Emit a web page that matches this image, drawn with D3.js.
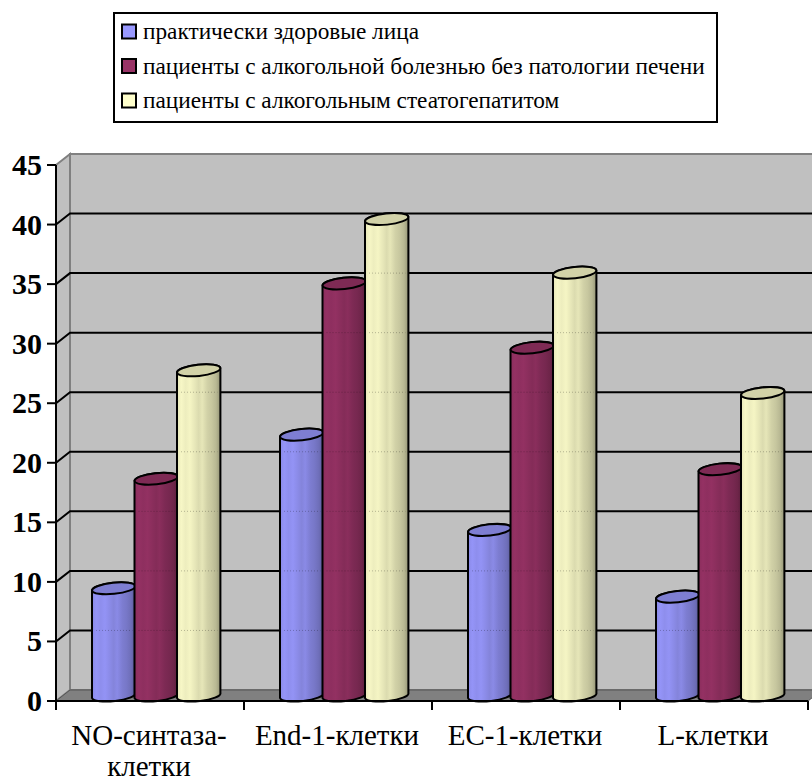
<!DOCTYPE html>
<html>
<head>
<meta charset="utf-8">
<script src="https://cdn.jsdelivr.net/npm/d3@7"></script>
<style>
  html, body { margin: 0; padding: 0; background: #fff; }
  svg { display: block; }
  text { font-family: "Liberation Serif", serif; fill: #000; }
  .tick-label { font-size: 30px; font-weight: bold; }
  .cat-label { font-size: 29px; }
  .legend-label { font-size: 23.3px; }
</style>
</head>
<body>
<div id="chart"></div>
<script>
var categories = [['NO-синтаза-', 'клетки'], ['End-1-клетки'], ['EC-1-клетки'], ['L-клетки']];
var seriesNames = [
  'практически здоровые лица',
  'пациенты с алкогольной болезнью без патологии печени',
  'пациенты с алкогольным стеатогепатитом'
];
var healthy = [9.0, 21.9, 13.9, 8.3];
var noLiver = [18.2, 34.6, 29.2, 19.0];
var steato = [27.3, 40.0, 35.5, 25.4];
var yTicks = [0, 5, 10, 15, 20, 25, 30, 35, 40, 45];
var seriesColors = ['#9999ff', '#993366', '#ffffcc'];

var width = 812, height = 783;
var depth = {x: 14, y: -11};

var svg = d3.select('#chart').append('svg')
    .attr('width', width)
    .attr('height', height);

var x = d3.scaleBand()
    .domain(d3.range(categories.length))
    .range([56, 808]);
var y = d3.scaleLinear()
    .domain([0, 45])
    .range([701, 165]);

// Gradients for the cylinders, light at the left and dark at the right
var defs = svg.append('defs');
var shade = [[0, 0.9], [0.1, 0.97], [0.2, 0.93], [0.3, 0.96], [0.42, 0.9], [0.5, 0.86], [0.58, 0.9],
    [0.7, 0.82], [0.8, 0.78], [0.9, 0.72], [1, 0.58]];
seriesColors.forEach(function(c, i) {
  var grad = defs.append('linearGradient')
      .attr('id', 'cyl' + i);
  shade.forEach(function(s) {
    var col = d3.rgb(c);
    grad.append('stop')
        .attr('offset', s[0])
        .attr('stop-color', d3.rgb(col.r * s[1], col.g * s[1], col.b * s[1]));
  });
});

// Back wall, side wall and floor
var left = x.range()[0], right = x.range()[1];
var y0 = y(0), yTop = y(45);
svg.append('path')
    .attr('d', 'M' + (left + depth.x) + ',' + (yTop + depth.y) + 'H' + (right + depth.x + 10) +
        'V' + (y0 + depth.y) + 'H' + (left + depth.x) + 'Z')
    .attr('fill', '#c0c0c0')
    .attr('stroke', '#808080')
    .attr('stroke-width', 2);
svg.append('path')
    .attr('d', 'M' + left + ',' + yTop + 'L' + (left + depth.x) + ',' + (yTop + depth.y) +
        'V' + (y0 + depth.y) + 'L' + left + ',' + y0 + 'Z')
    .attr('fill', '#c0c0c0')
    .attr('stroke', '#808080')
    .attr('stroke-width', 2);
svg.append('path')
    .attr('d', 'M' + left + ',' + y0 + 'L' + (left + depth.x) + ',' + (y0 + depth.y) +
        'H' + (right + depth.x) + 'L' + right + ',' + y0 + 'Z')
    .attr('fill', '#808080')
    .attr('stroke', '#555')
    .attr('stroke-width', 1);

// Gridlines on the walls
var gridTicks = yTicks.filter(function(d) { return d > 0 && d < 45; });
svg.append('g').selectAll('path')
    .data(gridTicks)
    .enter()
    .append('path')
      .attr('d', function(d) {
        return 'M' + left + ',' + y(d) + 'L' + (left + depth.x) + ',' + (y(d) + depth.y) + 'H' + width;
      })
      .attr('fill', 'none')
      .attr('stroke', '#000')
      .attr('stroke-width', 2);

// Cylinders
var series = [healthy, noLiver, steato];
var barW = 42.5, rx = 21.7, ry = 5.6, tilt = 2.5, angle = -6;
var gBars = svg.append('g');
var barX = function(cat, s) {
  return x(cat) + 36 + s * barW;
};

categories.forEach(function(c, cat) {
  series.forEach(function(values, s) {
    var v = values[cat];
    var xl = barX(cat, s), xr = xl + 2 * rx;
    var base = y(0) - 5.5, top = y(v) - 5.5;
    var g = gBars.append('g');
    g.append('path')
        .attr('d', 'M' + xl + ',' + (top + tilt) + 'L' + xl + ',' + (base + tilt) +
            'A' + rx + ',' + ry + ' ' + angle + ' 0 0 ' + xr + ',' + (base - tilt) +
            'L' + xr + ',' + (top - tilt) +
            'A' + rx + ',' + ry + ' ' + angle + ' 0 0 ' + xl + ',' + (top + tilt) + 'Z')
        .attr('fill', 'url(#cyl' + s + ')')
        .attr('stroke', '#000')
        .attr('stroke-width', 2);
    // faint dotted gridlines showing through the bar
    gridTicks.filter(function(t) { return t < v; }).forEach(function(t) {
      g.append('line')
          .attr('x1', xl + 4).attr('x2', xr - 3)
          .attr('y1', y(t) + depth.y).attr('y2', y(t) + depth.y)
          .attr('stroke', '#000')
          .attr('stroke-opacity', 0.25)
          .attr('stroke-dasharray', '1 2');
    });
    g.append('ellipse')
        .attr('cx', (xl + xr) / 2)
        .attr('cy', top)
        .attr('rx', rx)
        .attr('ry', ry)
        .attr('transform', 'rotate(' + angle + ' ' + ((xl + xr) / 2) + ' ' + top + ')')
        .attr('fill', d3.rgb(seriesColors[s]).darker(0.55))
        .attr('stroke', '#000')
        .attr('stroke-width', 2);
  });
});

// Axes
var axisY = svg.append('g');
axisY.append('line')
    .attr('x1', left).attr('x2', left)
    .attr('y1', yTop).attr('y2', y0)
    .attr('stroke', '#000').attr('stroke-width', 2);
axisY.selectAll('.tk')
    .data(yTicks)
    .enter()
    .append('line')
      .attr('class', 'tk')
      .attr('x1', left - 9).attr('x2', left)
      .attr('y1', function(d) { return y(d); })
      .attr('y2', function(d) { return y(d); })
      .attr('stroke', '#000').attr('stroke-width', 2);
axisY.selectAll('text')
    .data(yTicks)
    .enter()
    .append('text')
      .attr('class', 'tick-label')
      .attr('x', 42)
      .attr('y', function(d) { return y(d) + 10; })
      .attr('text-anchor', 'end')
      .text(function(d) { return d; });

var axisX = svg.append('g');
axisX.append('line')
    .attr('x1', left).attr('x2', right)
    .attr('y1', y0).attr('y2', y0)
    .attr('stroke', '#000').attr('stroke-width', 2);
axisX.selectAll('line.tk')
    .data(d3.range(categories.length + 1))
    .enter()
    .append('line')
      .attr('class', 'tk')
      .attr('x1', function(d) { return left + d * x.bandwidth(); })
      .attr('x2', function(d) { return left + d * x.bandwidth(); })
      .attr('y1', y0).attr('y2', y0 + 9)
      .attr('stroke', '#000').attr('stroke-width', 2);
categories.forEach(function(lines, i) {
  lines.forEach(function(line, j) {
    axisX.append('text')
        .attr('class', 'cat-label')
        .attr('x', x(i) + x.bandwidth() / 2 - 1)
        .attr('y', 745 + j * 31)
        .attr('text-anchor', 'middle')
        .text(line);
  });
});

// Legend
var legend = svg.append('g');
legend.append('rect')
    .attr('x', 114).attr('y', 13)
    .attr('width', 603).attr('height', 109)
    .attr('fill', '#fff')
    .attr('stroke', '#000').attr('stroke-width', 2);
seriesNames.forEach(function(name, i) {
  legend.append('rect')
      .attr('x', 122).attr('y', 24.5 + i * 34.5)
      .attr('width', 14).attr('height', 14)
      .attr('fill', seriesColors[i])
      .attr('stroke', '#000').attr('stroke-width', 2);
  legend.append('text')
      .attr('class', 'legend-label')
      .attr('x', 143)
      .attr('y', 39 + i * 34.5)
      .text(name);
});
</script>
</body>
</html>
